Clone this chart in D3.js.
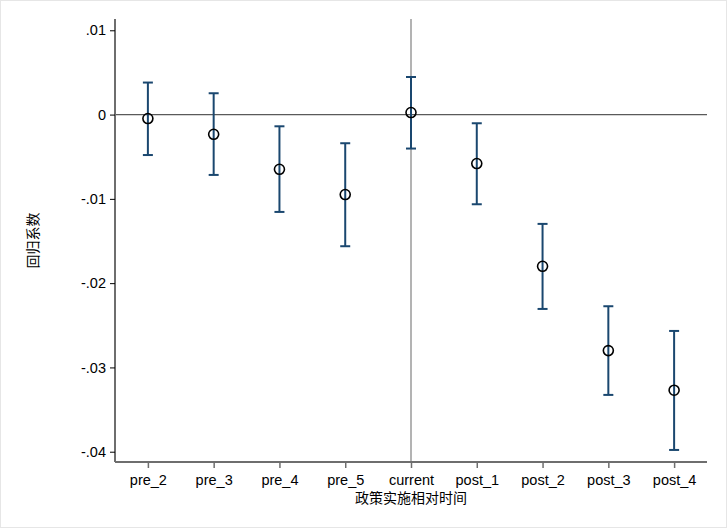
<!DOCTYPE html>
<html>
<head>
<meta charset="utf-8">
<script src="https://cdn.jsdelivr.net/npm/d3@7"></script>
<style>
  html, body { margin: 0; padding: 0; background: #fff; overflow: hidden; }
  svg { display: block; }
  text { font-family: "Liberation Sans", Arial, sans-serif; }
</style>
</head>
<body>
<svg id="chart"></svg>
<script>
// Event-study coefficients with confidence intervals
const periods = ["pre_2", "pre_3", "pre_4", "pre_5", "current", "post_1", "post_2", "post_3", "post_4"];
const coef = [-0.00047, -0.00234, -0.00649, -0.00949, 0.00024, -0.00581, -0.0180, -0.0280, -0.0327];
const ciLow = [-0.0048, -0.00716, -0.01155, -0.01562, -0.00403, -0.01064, -0.02306, -0.03326, -0.03979];
const ciHigh = [0.0038, 0.00253, -0.00139, -0.0034, 0.00446, -0.00103, -0.01297, -0.02274, -0.02567];
const yTicks = [0.01, 0, -0.01, -0.02, -0.03, -0.04];
const yTickLabels = [".01", "0", "-.01", "-.02", "-.03", "-.04"];

const width = 727, height = 528;
const margin = { top: 19, right: 20, bottom: 66, left: 115 };
const innerWidth = width - margin.left - margin.right;
const innerHeight = height - margin.top - margin.bottom;

const colors = { ci: "#1a476f", axis: "#6e6e6e", zero: "#5a5a5a", vline: "#9a9a9a", text: "#000" };

const svg = d3.select("#chart").attr("width", width).attr("height", height);

// light outer frame
svg.append("rect")
  .attr("x", 0.5).attr("y", 0.5)
  .attr("width", width - 1).attr("height", height - 1)
  .attr("fill", "none").attr("stroke", "#e6e6e6");

const g = svg.append("g").attr("transform", `translate(${margin.left},${margin.top})`);

const x = d3.scaleLinear().domain([-0.5, periods.length - 0.5]).range([0, innerWidth]);
const y = d3.scaleLinear().domain([-0.04122, 0.01134]).range([innerHeight, 0]);

// reference lines
g.append("line")
  .attr("x1", 0).attr("x2", innerWidth)
  .attr("y1", y(0)).attr("y2", y(0))
  .attr("stroke", colors.zero).attr("stroke-width", 1.2);

const curIdx = periods.indexOf("current");
g.append("line")
  .attr("x1", x(curIdx)).attr("x2", x(curIdx))
  .attr("y1", 0).attr("y2", innerHeight)
  .attr("stroke", colors.vline).attr("stroke-width", 1.5);

// Y axis
const yAxis = d3.axisLeft(y)
  .tickValues(yTicks)
  .tickFormat((d, i) => yTickLabels[i])
  .tickSize(5)
  .tickPadding(4);
const yg = g.append("g").call(yAxis);
yg.select(".domain").attr("d", `M0,0V${innerHeight}`).attr("stroke", colors.axis).attr("stroke-width", 2);
yg.selectAll(".tick line").attr("stroke", "#000").attr("stroke-width", 1);
yg.selectAll("text").attr("fill", colors.text).style("font-size", "14.5px");

// X axis
const xAxis = d3.axisBottom(x)
  .tickValues(d3.range(periods.length))
  .tickFormat(i => periods[i])
  .tickSize(6)
  .tickPadding(7);
const xg = g.append("g").attr("transform", `translate(0,${innerHeight})`).call(xAxis);
xg.select(".domain").attr("d", `M0,0H${innerWidth}`).attr("stroke", colors.axis).attr("stroke-width", 2);
xg.selectAll(".tick line").attr("stroke", colors.axis).attr("stroke-width", 1.5);
xg.selectAll("text").attr("fill", colors.text).style("font-size", "14.5px");

// CI bars
const capHalf = 5;
const bars = g.append("g").selectAll("g").data(periods).enter().append("g");
bars.append("line")
  .attr("x1", (d, i) => x(i)).attr("x2", (d, i) => x(i))
  .attr("y1", (d, i) => y(ciHigh[i])).attr("y2", (d, i) => y(ciLow[i]))
  .attr("stroke", colors.ci).attr("stroke-width", 2);
bars.append("line")
  .attr("x1", (d, i) => x(i) - capHalf).attr("x2", (d, i) => x(i) + capHalf)
  .attr("y1", (d, i) => y(ciHigh[i])).attr("y2", (d, i) => y(ciHigh[i]))
  .attr("stroke", colors.ci).attr("stroke-width", 2);
bars.append("line")
  .attr("x1", (d, i) => x(i) - capHalf).attr("x2", (d, i) => x(i) + capHalf)
  .attr("y1", (d, i) => y(ciLow[i])).attr("y2", (d, i) => y(ciLow[i]))
  .attr("stroke", colors.ci).attr("stroke-width", 2);

// point estimates
g.append("g").selectAll("circle").data(coef).enter().append("circle")
  .attr("cx", (d, i) => x(i))
  .attr("cy", d => y(d))
  .attr("r", 5)
  .attr("fill", "none")
  .attr("stroke", "#000")
  .attr("stroke-width", 1.6);

// axis titles
svg.append("text")
  .attr("x", margin.left + innerWidth / 2)
  .attr("y", 503)
  .attr("text-anchor", "middle")
  .attr("fill", colors.text)
  .style("font-family", "'Noto Sans CJK SC', sans-serif")
  .style("font-size", "14px")
  .text("政策实施相对时间");

svg.append("text")
  .attr("transform", `translate(38,${margin.top + innerHeight / 2}) rotate(-90)`)
  .attr("text-anchor", "middle")
  .attr("fill", colors.text)
  .style("font-family", "'Noto Sans CJK SC', sans-serif")
  .style("font-size", "14px")
  .text("回归系数");
</script>
</body>
</html>
